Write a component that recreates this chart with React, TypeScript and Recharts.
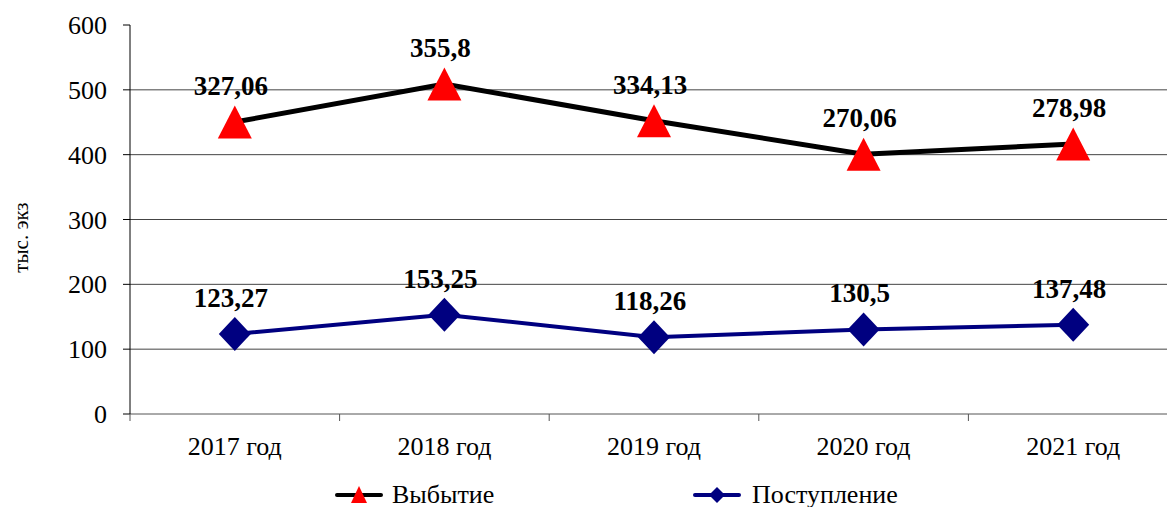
import React from "react";
import {
  Area,
  CartesianGrid,
  ComposedChart,
  Legend,
  XAxis,
  YAxis,
} from "recharts";

// Годы наблюдений
const years = ["2017 год", "2018 год", "2019 год", "2020 год", "2021 год"];
// Поступление, тыс. экз
const incoming = [123.27, 153.25, 118.26, 130.5, 137.48];
// Выбытие, тыс. экз (в исходнике ряд накоплен поверх поступления)
const outgoing = [327.06, 355.8, 334.13, 270.06, 278.98];
const yTicks = [0, 100, 200, 300, 400, 500, 600];
const gridValues = [100, 200, 300, 400, 500];

const rows = years.map((year, i) => ({
  year,
  incoming: incoming[i],
  outgoing: outgoing[i],
}));

const CHART_W = 1190;
const CHART_H = 507;
const Y_AXIS_W = 130;
const MARGIN = { top: 25, right: 12, bottom: 0, left: 0 };
const BAND = (CHART_W - Y_AXIS_W - MARGIN.left - MARGIN.right) / years.length;
const SERIF = "'Liberation Serif', 'Times New Roman', serif";

const fmt = (v: number) => String(v).replace(".", ",");

function Triangle(props: any) {
  const { cx, cy } = props;
  if (cx == null || cy == null) return null;
  const s = 34;
  const h = 33;
  return (
    <path
      d={`M${cx},${cy - h / 2} L${cx + s / 2},${cy + h / 2} L${cx - s / 2},${cy + h / 2} Z`}
      fill="#ff0000"
    />
  );
}

function Diamond(props: any) {
  const { cx, cy } = props;
  if (cx == null || cy == null) return null;
  const w = 16;
  const h = 17;
  return (
    <path
      d={`M${cx},${cy - h} L${cx + w},${cy} L${cx},${cy + h} L${cx - w},${cy} Z`}
      fill="#000080"
    />
  );
}

const makeLabel = (values: number[]) => (props: any) => {
  const { x, y, index } = props;
  if (x == null || y == null) return null;
  return (
    <text
      x={x - 4}
      y={y - 27}
      textAnchor="middle"
      style={{ fontFamily: SERIF, fontWeight: "bold", fontSize: 27 }}
      fill="#000"
    >
      {fmt(values[index])}
    </text>
  );
};

function XTick(props: any) {
  const { x, y, payload, index } = props;
  return (
    <g>
      <line x1={x - BAND / 2} y1={y} x2={x - BAND / 2} y2={y + 7} stroke="#555" />
      {index === years.length - 1 && (
        <line x1={x + BAND / 2} y1={y} x2={x + BAND / 2} y2={y + 7} stroke="#555" />
      )}
      <text x={x} y={y + 41} textAnchor="middle" style={{ fontFamily: SERIF, fontSize: 26 }} fill="#000">
        {payload.value}
      </text>
    </g>
  );
}

function YTick(props: any) {
  const { x, y, payload } = props;
  return (
    <text x={x} y={y + 9} textAnchor="end" style={{ fontFamily: SERIF, fontSize: 26 }} fill="#000">
      {payload.value}
    </text>
  );
}

function YLabel(props: any) {
  const { viewBox } = props;
  const cy = viewBox.y + viewBox.height / 2 + 18;
  return (
    <text
      x={21}
      y={cy}
      transform={`rotate(-90, 21, ${cy})`}
      textAnchor="middle"
      dominantBaseline="central"
      style={{ fontFamily: SERIF, fontSize: 21 }}
      fill="#000"
    >
      тыс. экз
    </text>
  );
}

function LegendContent() {
  return (
    <div style={{ position: "relative", width: 1167, height: 43, fontFamily: SERIF, fontSize: 26 }}>
      <div style={{ position: "absolute", left: 335, top: 16, display: "flex", alignItems: "center" }}>
        <svg width={48} height={24}>
          <line x1={2} y1={12} x2={46} y2={12} stroke="#000" strokeWidth={4} strokeLinecap="round" />
          <path d="M24,3 L32,20 L16,20 Z" fill="#ff0000" />
        </svg>
        <span style={{ marginLeft: 9 }}>Выбытие</span>
      </div>
      <div style={{ position: "absolute", left: 693, top: 16, display: "flex", alignItems: "center" }}>
        <svg width={48} height={24}>
          <line x1={2} y1={12} x2={46} y2={12} stroke="#000080" strokeWidth={4} strokeLinecap="round" />
          <path d="M24,4 L32,12 L24,20 L16,12 Z" fill="#000080" />
        </svg>
        <span style={{ marginLeft: 11 }}>Поступление</span>
      </div>
    </div>
  );
}

export default function App() {
  return (
    <div
      style={{
        position: "absolute",
        left: 0,
        top: 0,
        width: 1167,
        height: 507,
        overflow: "hidden",
        background: "#fff",
        fontFamily: SERIF,
      }}
    >
      <ComposedChart width={CHART_W} height={CHART_H} data={rows} margin={MARGIN}>
        <CartesianGrid vertical={false} horizontalValues={gridValues} stroke="#444" />
        <XAxis
          dataKey="year"
          scale="band"
          height={50}
          tickLine={false}
          tickSize={0}
          tickMargin={0}
          axisLine={{ stroke: "#555" }}
          tick={<XTick />}
          interval={0}
        />
        <YAxis
          width={Y_AXIS_W}
          domain={[0, 600]}
          ticks={yTicks}
          tickSize={7}
          tickMargin={16}
          axisLine={{ stroke: "#000" }}
          tickLine={{ stroke: "#000" }}
          tick={<YTick />}
          label={<YLabel />}
        />
        <Legend verticalAlign="bottom" content={<LegendContent />} />
        <Area
          dataKey="incoming"
          stackId="a"
          type="linear"
          stroke="#000080"
          strokeWidth={4}
          fill="none"
          dot={<Diamond />}
          activeDot={false}
          label={makeLabel(incoming)}
          isAnimationActive={false}
        />
        <Area
          dataKey="outgoing"
          stackId="a"
          type="linear"
          stroke="#000"
          strokeWidth={5}
          fill="none"
          dot={<Triangle />}
          activeDot={false}
          label={makeLabel(outgoing)}
          isAnimationActive={false}
        />
      </ComposedChart>
    </div>
  );
}
